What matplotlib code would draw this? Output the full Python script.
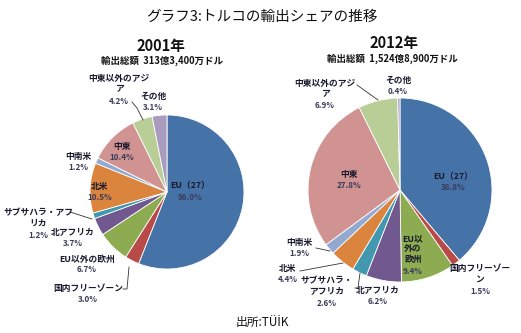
import matplotlib.pyplot as plt

plt.rcParams['font.family'] = ['Noto Sans CJK JP', 'DejaVu Sans']

# 輸出先の区分 (時計回り、12時の位置から)
regions = ["EU（27）", "国内フリーゾーン", "EU以外の欧州", "北アフリカ",
           "サブサハラ・アフリカ", "北米", "中南米", "中東",
           "中東以外のアジア", "その他"]
share_2001 = [56.0, 3.0, 6.7, 3.7, 1.2, 10.5, 1.2, 10.4, 4.2, 3.1]
share_2012 = [38.8, 1.5, 9.4, 6.2, 2.6, 4.4, 1.9, 27.8, 6.9, 0.4]

colors = ["#4572A7", "#B84A47", "#8DAB50", "#71588F", "#4198AF",
          "#DB843D", "#93A9CF", "#D19392", "#B9CD96", "#A99BBD"]

W, H = 521, 333

# ラベルの表示名 (折り返し) と位置 [px, 上から]
labels_2001 = {
    0: ("EU（27）", 190, 186),
    1: ("国内フリーゾーン", 88, 288),
    2: ("EU以外の欧州", 87, 259),
    3: ("北アフリカ", 73, 232),
    4: ("サブサハラ・アフ\nリカ", 38, 218),
    5: ("北米", 100, 187),
    6: ("中南米", 78, 157),
    7: ("中東", 122, 146),
    8: ("中東以外のアジ\nア", 119, 84),
    9: ("その他", 153, 96),
}
labels_2012 = {
    0: ("EU（27）", 453, 177),
    1: ("国内フリーゾー\nン", 480, 274),
    2: ("EU以\n外の\n欧州", 413, 249),
    3: ("北アフリカ", 378, 290),
    4: ("サブサハラ・\nアフリカ", 327, 286),
    5: ("北米", 288, 268),
    6: ("中南米", 299, 243),
    7: ("中東", 349, 175),
    8: ("中東以外のアジ\nア", 325, 89),
    9: ("その他", 398, 80),
}

fig = plt.figure(figsize=(W / 100, H / 100), dpi=100)
ax = fig.add_axes([0, 0, 1, 1])
ax.set_xlim(0, W)
ax.set_ylim(0, H)
ax.axis("off")


def y(p):
    return H - p


def draw_pie(values, cx, cy, r, labels):
    ax.pie(values, colors=colors, startangle=90, counterclock=False,
           center=(cx, y(cy)), radius=r, frame=True,
           wedgeprops=dict(edgecolor="white", linewidth=0.6))
    for i, (name, lx, ly) in labels.items():
        nlines = name.count("\n") + 1
        ax.text(lx, y(ly), name, ha="center", va="center", fontsize=6.3,
                fontweight="bold", color="#1a1a2e", linespacing=1.15)
        ax.text(lx, y(ly + 6 * nlines + 5), f"{values[i]:.1f}%",
                ha="center", va="center", fontsize=5.8,
                fontweight="bold", color="#3b3b5a")


draw_pie(share_2001, 167, 192, 77, labels_2001)
draw_pie(share_2012, 400, 190, 92, labels_2012)

ax.set_xlim(0, W)
ax.set_ylim(0, H)
ax.set_aspect("auto")

# 引き出し線
lead = dict(color="#333333", linewidth=0.6)
ax.plot([132, 137, 143], [y(102), y(108), y(120)], **lead)
ax.plot([70, 92], [y(212), y(219)], **lead)
ax.plot([123, 127, 129], [y(289), y(289), y(267)], **lead)
ax.plot([357, 378], [y(85), y(100)], **lead)
ax.plot([316, 330], [y(248), y(251)], **lead)
ax.plot([300, 343], [y(271), y(263)], **lead)
ax.plot([355, 358, 360], [y(288), y(288), y(273)], **lead)

ax.text(262, y(17), "グラフ3:トルコの輸出シェアの推移", ha="center",
        va="center", fontsize=10.5, color="#111111")
ax.text(161, y(46), "2001年", ha="center", va="center", fontsize=10.5,
        fontweight="bold", color="#111111")
ax.text(162, y(61), "輸出総額  313億3,400万ドル", ha="center", va="center",
        fontsize=6.8, fontweight="bold", color="#111111")
ax.text(394, y(43), "2012年", ha="center", va="center", fontsize=10.5,
        fontweight="bold", color="#111111")
ax.text(392, y(59), "輸出総額  1,524億8,900万ドル", ha="center", va="center",
        fontsize=6.8, fontweight="bold", color="#111111")
ax.text(262, y(322), "出所:TÜİK", ha="center", va="center", fontsize=8.5,
        color="#111111")

fig.savefig("out.png", dpi=100)
